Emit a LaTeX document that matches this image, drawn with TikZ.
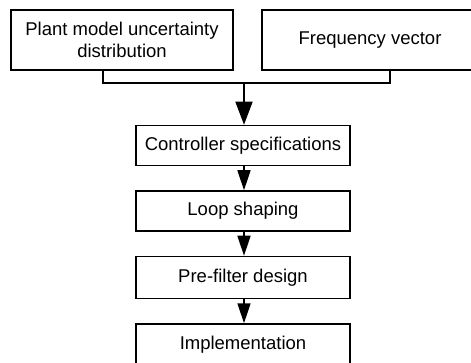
\documentclass[tikz,border=0pt]{standalone}
\usepackage{fontspec}
\setmainfont{Liberation Sans}
\usetikzlibrary{arrows.meta}
\begin{document}
\begin{tikzpicture}[x=1pt,y=-1pt,
  box/.style={draw=black,line width=1.5pt,inner sep=0pt,font=\fontsize{18.5}{22}\selectfont,align=center},
  conn/.style={line width=1.5pt,draw=black},
  arr/.style={conn,-{Triangle[length=20pt,width=13pt]}},
  bigarr/.style={conn,-{Triangle[length=23pt,width=17pt]}}]
\useasboundingbox (0,0) rectangle (471,363);
\node[box,minimum width=222pt,minimum height=60pt] (plant) at (122,40) {Plant model uncertainty\\distribution};
\node[box,minimum width=216pt,minimum height=60pt] (freq) at (370,40) {Frequency vector};
\node[box,minimum width=214pt,minimum height=40pt] (ctrl) at (243,145.5) {Controller specifications};
\node[box,minimum width=214pt,minimum height=40pt] (loop) at (243,211) {Loop shaping};
\node[box,minimum width=214pt,minimum height=42pt] (pre) at (243,277.5) {Pre-filter design};
\node[box,minimum width=214pt,minimum height=42pt] (impl) at (243,345) {Implementation};
\coordinate (jl) at (103,83);
\coordinate (jr) at (390,83);
\coordinate (jm) at (244,83);
\draw[conn] (plant.south -| jl) -- (jl) -- (jr) -- (freq.south -| jr);
\draw[bigarr] (jm) -- (ctrl.north -| jm);
\draw[arr] (ctrl.south -| jm) -- (loop.north -| jm);
\draw[arr] (loop.south -| jm) -- (pre.north -| jm);
\draw[arr] (pre.south -| jm) -- (impl.north -| jm);
\end{tikzpicture}
\end{document}
